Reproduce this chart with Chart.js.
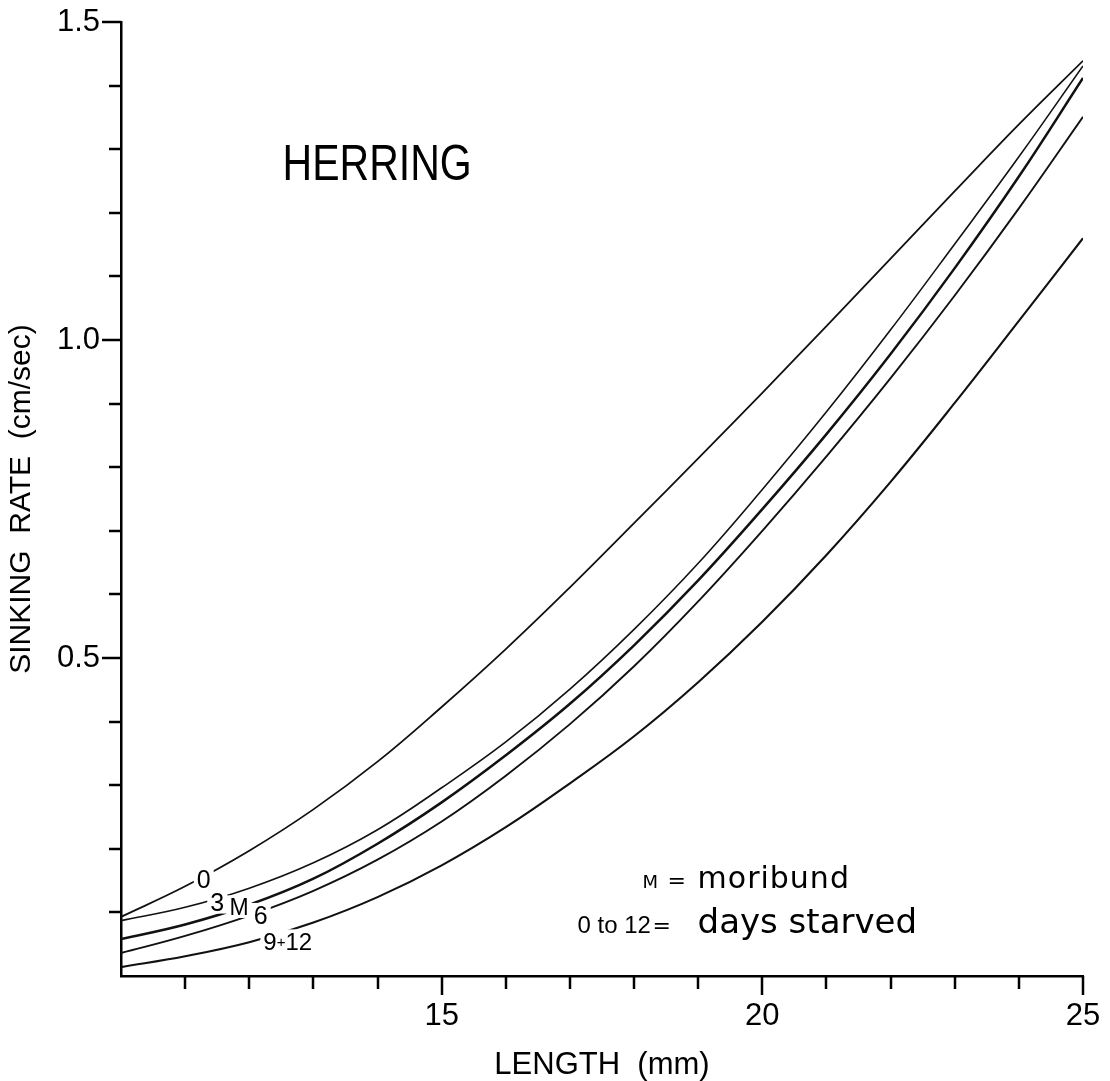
<!DOCTYPE html>
<html>
<head>
<meta charset="utf-8">
<title>Herring sinking rate</title>
<script src="https://cdn.jsdelivr.net/npm/chart.js@4.4.1/dist/chart.umd.min.js"></script>
<style>
  html, body { margin: 0; padding: 0; background: #fff; }
  #wrap { width: 1110px; height: 1081px; }
</style>
</head>
<body>
<div id="wrap"><canvas id="sinkChart" width="1110" height="1081"></canvas></div>
<script>
// larval length (mm) where each curve is sampled
const lengths = [10, 11, 12, 13, 14, 15, 16, 17, 18, 19, 20, 21, 22, 23, 24, 25];

// sinking rate (cm/sec) for each starvation group
const starved0 = [0.093, 0.141, 0.197, 0.262, 0.337, 0.423, 0.514, 0.611, 0.712, 0.814, 0.917, 1.022, 1.128, 1.234, 1.339, 1.439];
const starved3 = [0.087, 0.108, 0.138, 0.178, 0.230, 0.296, 0.368, 0.451, 0.545, 0.649, 0.765, 0.887, 1.016, 1.151, 1.288, 1.431];
const moribund = [0.058, 0.081, 0.112, 0.153, 0.208, 0.273, 0.347, 0.428, 0.520, 0.622, 0.734, 0.852, 0.978, 1.113, 1.257, 1.412];
const starved6 = [0.036, 0.063, 0.095, 0.134, 0.183, 0.243, 0.315, 0.396, 0.487, 0.589, 0.700, 0.817, 0.940, 1.070, 1.207, 1.351];
const starved9to12 = [0.014, 0.031, 0.053, 0.084, 0.124, 0.174, 0.234, 0.303, 0.377, 0.462, 0.557, 0.662, 0.777, 0.901, 1.030, 1.160];

// axis ticks: every mm / every 0.1 cm/sec, only a few carry a label
const xTickValues = [11, 12, 13, 14, 15, 16, 17, 18, 19, 20, 21, 22, 23, 24, 25];
const xTickLabels = ['', '', '', '', '15', '', '', '', '', '20', '', '', '', '', '25'];
const yTickValues = [0.1, 0.2, 0.3, 0.4, 0.5, 0.6, 0.7, 0.8, 0.9, 1.0, 1.1, 1.2, 1.3, 1.4, 1.5];
const yTickLabels = ['', '', '', '', '0.5', '', '', '', '', '1.0', '', '', '', '', '1.5'];

const FONT = '"Liberation Sans", Arial, Helvetica, sans-serif';
const KEY_FONT = '"DejaVu Sans", Verdana, sans-serif';

// in-line curve labels, placed in data units
const curveLabels = [
  { x: 11.29, y: 0.153, parts: [['0', 25]] },
  { x: 11.50, y: 0.117, parts: [['3', 25]] },
  { x: 11.84, y: 0.109, parts: [['M', 23]] },
  { x: 12.18, y: 0.096, parts: [['6', 25]] },
  { x: 12.60, y: 0.055, parts: [['9', 24], ['+', 15], ['12', 24]] },
];

// key in the lower right corner; dx is offset in px from the anchor
const keyAnchorX = 18.99;
const keyLines = [
  { y: 0.139, parts: [
    { text: 'M', size: 18, dx: -55 },
    { text: '=', size: 22, dx: -30 },
    { text: 'moribund', size: 30, dx: 0, spacing: 1 },
  ] },
  { y: 0.068, parts: [
    { text: '0 to 12', size: 24, dx: -120, font: FONT },
    { text: '=', size: 22, dx: -45 },
    { text: 'days starved', size: 34, dx: 0 },
  ] },
];

function toPoints(series) {
  return lengths.map((len, i) => ({ x: len, y: series[i] }));
}

function makeDataset(label, series, width) {
  return {
    label,
    data: toPoints(series),
    borderColor: '#111',
    borderWidth: width,
    pointRadius: 0,
    fill: false,
    tension: 0.4,
  };
}

// tick marks: short ones every step, longer ones where a label sits
function drawTickMarks(chart) {
  const { ctx, chartArea, scales: { x, y } } = chart;
  ctx.save();
  ctx.strokeStyle = '#000';
  ctx.lineWidth = 2.5;
  ctx.beginPath();
  xTickValues.forEach((v, i) => {
    const px = Math.round(x.getPixelForValue(v));
    const len = xTickLabels[i] ? 19 : 13;
    ctx.moveTo(px, chartArea.bottom);
    ctx.lineTo(px, chartArea.bottom + len);
  });
  yTickValues.forEach((v, i) => {
    const py = Math.round(y.getPixelForValue(v));
    const len = yTickLabels[i] ? 19 : 12;
    ctx.moveTo(chartArea.left, py);
    ctx.lineTo(chartArea.left - len, py);
  });
  ctx.stroke();
  ctx.restore();
}

function drawCurveLabels(chart) {
  const { ctx, scales: { x, y } } = chart;
  ctx.save();
  ctx.textAlign = 'left';
  ctx.textBaseline = 'alphabetic';
  curveLabels.forEach((lbl) => {
    const widths = lbl.parts.map(([t, size]) => {
      ctx.font = `${size}px ${FONT}`;
      return ctx.measureText(t).width;
    });
    const total = widths.reduce((a, b) => a + b, 0);
    const size = lbl.parts[0][1];
    const cx = x.getPixelForValue(lbl.x);
    const cy = y.getPixelForValue(lbl.y);
    const capH = size * 0.72;
    const base = cy + capH / 2;
    // white gap under the label so the curve breaks around it
    ctx.fillStyle = '#fff';
    ctx.fillRect(cx - total / 2 - 3, base - capH - 3, total + 6, capH + 6);
    ctx.fillStyle = '#000';
    let left = cx - total / 2;
    lbl.parts.forEach(([t, s], i) => {
      ctx.font = `${s}px ${FONT}`;
      const lift = s < size ? (size - s) * 0.35 : 0;
      ctx.fillText(t, left, base - lift);
      left += widths[i];
    });
  });
  ctx.restore();
}

function drawHeadingAndKey(chart) {
  const { ctx, scales: { x, y } } = chart;
  ctx.save();
  ctx.fillStyle = '#000';
  ctx.textBaseline = 'alphabetic';
  ctx.textAlign = 'left';

  // species name, drawn a little condensed
  ctx.save();
  ctx.translate(x.getPixelForValue(12.52), y.getPixelForValue(1.252));
  ctx.scale(0.82, 1);
  ctx.font = `50px ${FONT}`;
  ctx.fillText('HERRING', 0, 0);
  ctx.restore();

  const ax = x.getPixelForValue(keyAnchorX);
  keyLines.forEach((line) => {
    const base = y.getPixelForValue(line.y);
    line.parts.forEach((p) => {
      ctx.font = `${p.size}px ${p.font || KEY_FONT}`;
      if ('letterSpacing' in ctx) ctx.letterSpacing = `${p.spacing || 0}px`;
      ctx.fillText(p.text, ax + p.dx, base);
    });
  });
  ctx.restore();
}

const figurePlugin = {
  id: 'herringFigure',
  afterDatasetsDraw(chart) {
    drawCurveLabels(chart);
  },
  afterDraw(chart) {
    drawTickMarks(chart);
    drawHeadingAndKey(chart);
  },
};

Chart.defaults.font.family = FONT;
Chart.defaults.color = '#000';

// the library's own tick marks stay invisible; they only set the label offset
const hiddenGrid = (len) => ({
  display: true,
  drawOnChartArea: false,
  drawTicks: true,
  tickLength: len,
  color: 'rgba(0,0,0,0)',
});

new Chart(document.getElementById('sinkChart'), {
  type: 'line',
  data: {
    datasets: [
      makeDataset('0 days', starved0, 1.8),
      makeDataset('3 days', starved3, 1.6),
      makeDataset('moribund', moribund, 2.5),
      makeDataset('6 days', starved6, 1.9),
      makeDataset('9 + 12 days', starved9to12, 2.1),
    ],
  },
  options: {
    responsive: false,
    animation: false,
    devicePixelRatio: 1,
    layout: { padding: { top: 22, right: 27, left: 0, bottom: 0 } },
    plugins: {
      legend: { display: false },
      tooltip: { enabled: false },
    },
    scales: {
      x: {
        type: 'linear',
        min: 10,
        max: 25,
        afterBuildTicks(scale) {
          scale.ticks = xTickValues.map((value) => ({ value }));
        },
        afterFit(scale) {
          scale.height = 105;
        },
        ticks: {
          autoSkip: false,
          maxRotation: 0,
          padding: 3,
          font: { size: 31 },
          callback(value, index) {
            return xTickLabels[index];
          },
        },
        grid: hiddenGrid(19),
        border: { display: true, color: '#000', width: 2.5 },
        title: {
          display: true,
          text: 'LENGTH  (mm)',
          font: { size: 31, lineHeight: 1.0 },
          padding: { top: 0, bottom: 0 },
        },
      },
      y: {
        type: 'linear',
        min: 0,
        max: 1.5,
        afterBuildTicks(scale) {
          scale.ticks = yTickValues.map((value) => ({ value }));
        },
        afterFit(scale) {
          scale.width = 121;
        },
        ticks: {
          autoSkip: false,
          padding: 3,
          font: { size: 31 },
          callback(value, index) {
            return yTickLabels[index];
          },
        },
        grid: hiddenGrid(18),
        border: { display: true, color: '#000', width: 2.5 },
        title: {
          display: true,
          text: 'SINKING  RATE  (cm/sec)',
          font: { size: 30 },
          padding: { top: 4, bottom: 0 },
        },
      },
    },
  },
  plugins: [figurePlugin],
});
</script>
</body>
</html>
